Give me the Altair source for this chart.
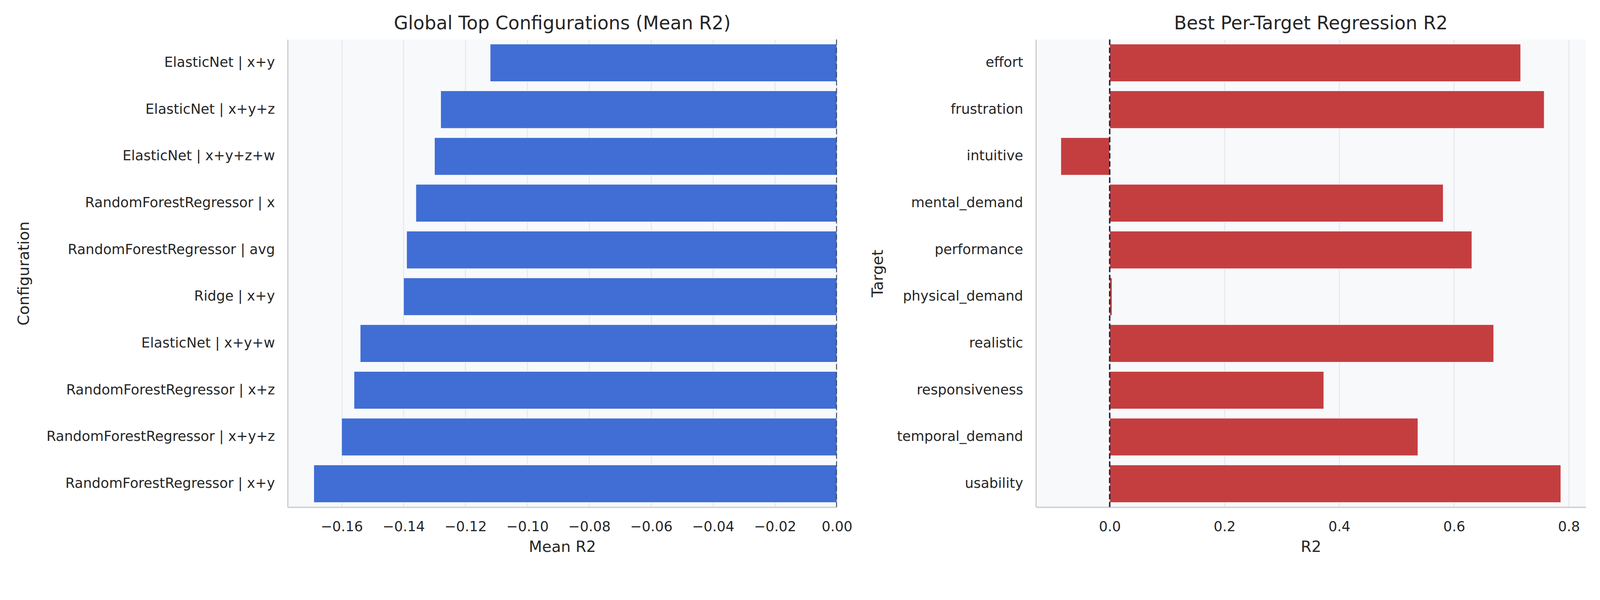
import altair as alt
import pandas as pd

# ---- data ----
configs = [
    "ElasticNet | x+y",
    "ElasticNet | x+y+z",
    "ElasticNet | x+y+z+w",
    "RandomForestRegressor | x",
    "RandomForestRegressor | avg",
    "Ridge | x+y",
    "ElasticNet | x+y+w",
    "RandomForestRegressor | x+z",
    "RandomForestRegressor | x+y+z",
    "RandomForestRegressor | x+y",
]
mean_r2 = [-0.112, -0.128, -0.130, -0.136, -0.139, -0.140, -0.154, -0.156, -0.160, -0.169]

targets = [
    "effort",
    "frustration",
    "intuitive",
    "mental_demand",
    "performance",
    "physical_demand",
    "realistic",
    "responsiveness",
    "temporal_demand",
    "usability",
]
best_r2 = [0.716, 0.757, -0.085, 0.581, 0.631, 0.004, 0.669, 0.373, 0.537, 0.786]

left_ticks = [-0.16, -0.14, -0.12, -0.10, -0.08, -0.06, -0.04, -0.02, 0.0]
right_ticks = [0.0, 0.2, 0.4, 0.6, 0.8]

# ---- styling ----
BLUE = "#406ed4"
RED = "#c43e40"
DARK = "#1f2a3c"
BG = "#f8f9fb"
GRID = "#e5e8ee"
SPINE = "#cccccc"
TEXT = "#262626"
FONT = "DejaVu Sans"

left_df = pd.DataFrame({"config": configs, "mean_r2": mean_r2})
right_df = pd.DataFrame({"target": targets, "r2": best_r2})
zero_df = pd.DataFrame({"v": [0]})

band = alt.Scale(paddingInner=0.2, paddingOuter=0.1)

left_bars = alt.Chart(left_df).mark_bar(color=BLUE, stroke="white", strokeWidth=1).encode(
    x=alt.X(
        "mean_r2:Q",
        title="Mean R2",
        scale=alt.Scale(domain=[-0.17745, 0.0], nice=False, zero=False),
        axis=alt.Axis(values=left_ticks, format=".2f"),
    ),
    x2=alt.datum(0),
    y=alt.Y(
        "config:N",
        title="Configuration",
        sort=configs,
        scale=band,
        axis=alt.Axis(titleX=-694, titleY=634, titleBaseline="bottom", titleAngle=270),
    ),
)
left_rule = alt.Chart(zero_df).mark_rule(
    color=DARK, strokeDash=[15, 7], strokeWidth=4, clip=True
).encode(x=alt.datum(0))

left = alt.layer(left_bars, left_rule).properties(
    width=1490,
    height=1268,
    title=alt.TitleParams("Global Top Configurations (Mean R2)"),
)

right_bars = alt.Chart(right_df).mark_bar(color=RED, stroke="white", strokeWidth=1).encode(
    x=alt.X(
        "r2:Q",
        title="R2",
        scale=alt.Scale(domain=[-0.1286, 0.8296], nice=False, zero=False),
        axis=alt.Axis(values=right_ticks, format=".1f"),
    ),
    x2=alt.datum(0),
    y=alt.Y(
        "target:N",
        title="Target",
        sort=targets,
        scale=band,
        axis=alt.Axis(titleX=-407, titleY=634, titleBaseline="bottom", titleAngle=270),
    ),
)
right_rule = alt.Chart(zero_df).mark_rule(
    color=DARK, strokeDash=[15, 7], strokeWidth=4, clip=True
).encode(x=alt.datum(0))

right = alt.layer(right_bars, right_rule).properties(
    width=1492,
    height=1268,
    title=alt.TitleParams("Best Per-Target Regression R2"),
)

chart = (
    alt.hconcat(left, right, spacing=49)
    .properties(padding={"left": 36, "top": -12, "right": 30, "bottom": 0}, background="white")
    .configure_view(stroke=None, fill=BG)
    .configure_axis(
        labelFont=FONT,
        titleFont=FONT,
        labelFontSize=37.5,
        titleFontSize=41.7,
        labelColor=TEXT,
        titleColor=TEXT,
        titleFontWeight="normal",
        ticks=False,
        tickSize=0,
        domainColor=SPINE,
        domainWidth=3.3,
        gridColor=GRID,
        gridWidth=2.7,
        labelFlush=False,
        labelOverlap=False,
        labelLimit=2000,
    )
    .configure_axisX(labelPadding=35, titlePadding=16, grid=True)
    .configure_axisY(labelPadding=35, titlePadding=18, grid=False)
    .configure_title(
        font=FONT,
        fontSize=50,
        fontWeight="normal",
        color=TEXT,
        anchor="middle",
        offset=17,
    )
)

chart.save("out.html", embed_options={"renderer": "svg", "actions": False})
